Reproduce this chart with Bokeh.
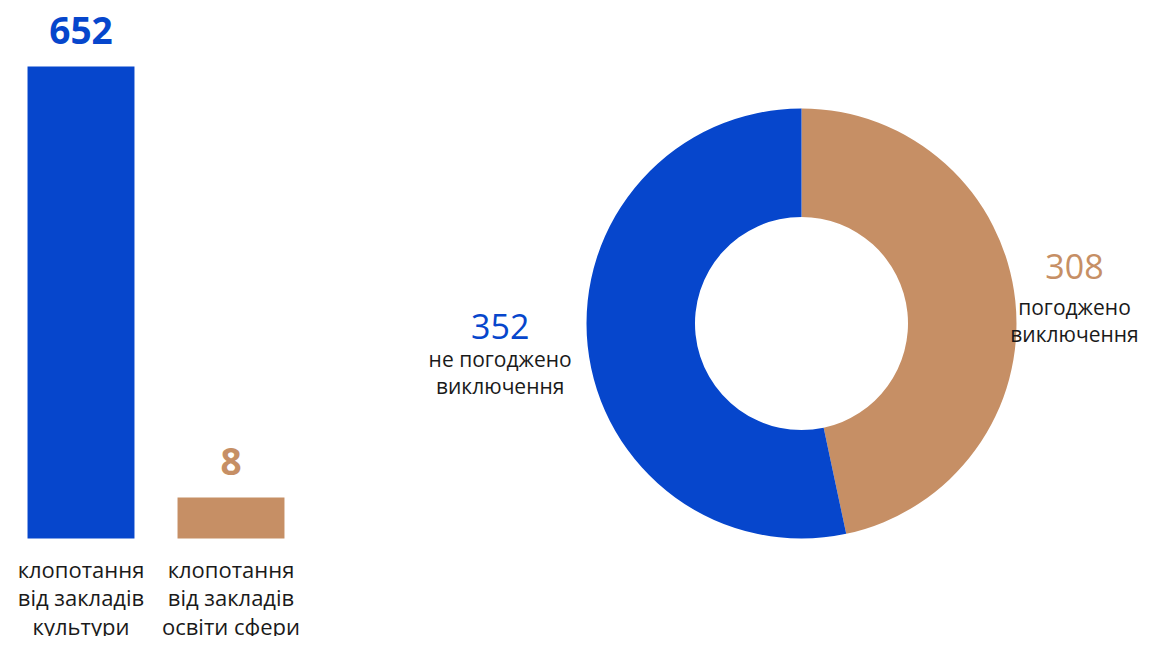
import numpy as np
from bokeh.plotting import figure
from bokeh.layouts import row
from bokeh.models import ColumnDataSource, Range1d
from bokeh.core.properties import value
from bokeh.embed import file_html
from bokeh.resources import INLINE

BLUE = "#0646CC"
TAN = "#C68F65"
INK = "#1a1a1a"
FONT = "Open Sans"

# ---- data ----
bar_categories = ["клопотання\nвід закладів\nкультури",
                  "клопотання\nвід закладів\nосвіти сфери\nкультури"]
bar_values = [652, 8]
bar_colors = [BLUE, TAN]

donut_labels = ["погоджено\nвиключення", "не погоджено\nвиключення"]
donut_values = [308, 352]
donut_colors = [TAN, BLUE]

# ---- bar chart ----
vmax = max(bar_values)
min_visible = 0.087 * vmax  # tiny bars are drawn with a minimum visible height
bar_src = ColumnDataSource(dict(
    x=list(range(len(bar_values))),
    val=bar_values,
    shown=[max(v, min_visible) for v in bar_values],
    label=[str(v) for v in bar_values],
    cat=bar_categories,
    color=bar_colors,
))

W1, H = 400, 636
x0 = -80.5 / 150
y0 = -98 / (472 / 652)
p1 = figure(width=W1, height=H, x_range=Range1d(x0, x0 + W1 / 150),
            y_range=Range1d(y0, y0 + H / (472 / 652)), output_backend="svg",
            toolbar_location=None, x_axis_location=None, y_axis_location=None, min_border=0)
p1.grid.visible = False
p1.outline_line_color = None
p1.vbar(x="x", top="shown", bottom=0, width=0.713, color="color", line_color=None, source=bar_src)
p1.text(x="x", y="shown", text="label", y_offset=-36, text_align="center",
        text_baseline="alphabetic", text_font=value(FONT), text_font_size="37px",
        text_font_style="bold", text_color="color", source=bar_src)
p1.text(x="x", y=0, text="cat", y_offset=15, text_align="center", text_baseline="top",
        text_font=value(FONT), text_font_size="22px", text_color=INK,
        text_line_height=0.96, source=bar_src)

# ---- donut ----
total = sum(donut_values)
cum = np.cumsum([0] + donut_values)
starts = [np.pi / 2 - 2 * np.pi * c / total for c in cum[:-1]]
ends = [np.pi / 2 - 2 * np.pi * c / total for c in cum[1:]]
mids = [(s + e) / 2 for s, e in zip(starts, ends)]
W2 = 1141 - W1
XL, XR = -401, -401 + W2
R = 303
lx = [float(np.clip(R * np.cos(m), XL + 70, XR - 67)) for m in mids]
ly = [R * np.sin(m) for m in mids]
# vertical text nudges (screen px) for the number and caption of each slice label
NUM_DY = [-25, -29]
LAB_DY = [1, -10]
donut_src = ColumnDataSource(dict(
    start=starts, end=ends, color=donut_colors, lx=lx, ly=ly,
    num=[str(v) for v in donut_values], lab=donut_labels,
    ndy=NUM_DY, ldy=LAB_DY,
))

p2 = figure(width=W2, height=H, x_range=Range1d(XL, XR), y_range=Range1d(323 - H, 323),
            output_backend="svg", toolbar_location=None,
            x_axis_location=None, y_axis_location=None, min_border=0)
p2.grid.visible = False
p2.outline_line_color = None
p2.annular_wedge(x=0, y=0, inner_radius=106.5, outer_radius=215, start_angle="start",
                 end_angle="end", direction="clock", color="color", line_color=None,
                 source=donut_src)
p2.text(x="lx", y="ly", text="num", y_offset="ndy", text_align="center",
        text_baseline="alphabetic", text_font=value(FONT), text_font_size="34px",
        text_color="color", source=donut_src)
p2.text(x="lx", y="ly", text="lab", y_offset="ldy", text_align="center", text_baseline="top",
        text_font=value(FONT), text_font_size="21px", text_color=INK,
        text_line_height=0.97, source=donut_src)

layout = row(p1, p2, spacing=0)
open("out.html", "w").write(file_html(layout, INLINE))
